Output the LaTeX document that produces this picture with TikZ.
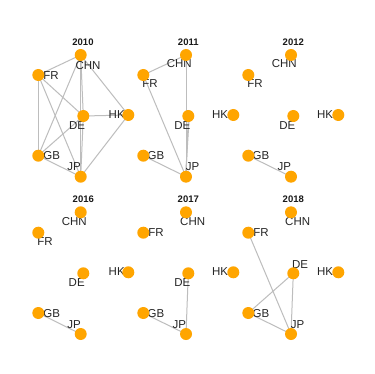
\documentclass[tikz,border=0pt]{standalone}
\usepackage{fontspec}
\setmainfont{Liberation Sans}
\definecolor{nodeorange}{HTML}{FFA500}
\definecolor{edgegray}{HTML}{BDBDBD}
\begin{document}
\begin{tikzpicture}[x=1pt,y=-1pt,
  vert/.style={circle,fill=nodeorange,draw=none,minimum size=12pt,inner sep=0pt},
  lab/.style={font=\fontsize{11.5}{13}\selectfont,text=black!85,inner sep=0pt,text height=0.72em,text depth=0pt},
  ttl/.style={font=\fontsize{9.5}{11}\selectfont\bfseries,text=black!90,inner sep=0pt,text height=0.72em,text depth=0pt},
  edge/.style={draw=edgegray,line width=1pt}]
\useasboundingbox[fill=white] (0,0) rectangle (374,374);

% ---------- 2010 ----------
\node[ttl] (t10) at (83,42) {2010};
\coordinate (a-CHN) at (80.7,55);
\coordinate (a-FR) at (38.3,75);
\coordinate (a-DE) at (83.3,116);
\coordinate (a-HK) at (128.3,115);
\coordinate (a-GB) at (38.3,155.7);
\coordinate (a-JP) at (80.7,176.7);
\foreach \u/\v in {CHN/FR,CHN/GB,CHN/DE,CHN/JP,CHN/HK,FR/DE,FR/GB,FR/JP,DE/HK,DE/GB,DE/JP,GB/JP,HK/JP}
  \draw[edge] (a-\u) -- (a-\v);
\node[lab] (la-CHN) at (88,65.5) {CHN};
\node[lab] (la-FR) at (51,76) {FR};
\node[lab] (la-DE) at (77,125.7) {DE};
\node[lab] (la-HK) at (116.7,115.3) {HK};
\node[lab] (la-GB) at (51.7,156) {GB};
\node[lab] (la-JP) at (74,167.3) {JP};
\foreach \n in {CHN,FR,DE,HK,GB,JP} \node[vert] (na-\n) at (a-\n) {};

% ---------- 2011 ----------
\node[ttl] (t11) at (188.3,41.7) {2011};
\coordinate (b-CHN) at (186,55);
\coordinate (b-FR) at (143.3,75);
\coordinate (b-DE) at (188.3,116);
\coordinate (b-HK) at (233.3,115);
\coordinate (b-GB) at (143.3,155.7);
\coordinate (b-JP) at (186,176.7);
\foreach \u/\v in {CHN/FR,CHN/JP,FR/JP,DE/JP,GB/JP}
  \draw[edge] (b-\u) -- (b-\v);
\draw[edge] ([xshift=1pt]b-DE) -- ([xshift=-0.5pt]b-JP);
\node[lab] (lb-CHN) at (179.3,64.3) {CHN};
\node[lab] (lb-FR) at (150,84.3) {FR};
\node[lab] (lb-DE) at (182.3,125.7) {DE};
\node[lab] (lb-HK) at (220,115) {HK};
\node[lab] (lb-GB) at (156,156) {GB};
\node[lab] (lb-JP) at (192.7,167.3) {JP};
\foreach \n in {CHN,FR,DE,HK,GB,JP} \node[vert] (nb-\n) at (b-\n) {};

% ---------- 2012 ----------
\node[ttl] (t12) at (293.3,41.7) {2012};
\coordinate (c-CHN) at (291,55);
\coordinate (c-FR) at (248.3,75);
\coordinate (c-DE) at (293.3,116);
\coordinate (c-HK) at (338.3,115);
\coordinate (c-GB) at (248.3,155.7);
\coordinate (c-JP) at (291,176.7);
\draw[edge] (c-GB) -- (c-JP);
\node[lab] (lc-CHN) at (284.3,64.3) {CHN};
\node[lab] (lc-FR) at (255,84.3) {FR};
\node[lab] (lc-DE) at (287.3,125.7) {DE};
\node[lab] (lc-HK) at (325,115) {HK};
\node[lab] (lc-GB) at (261,156) {GB};
\node[lab] (lc-JP) at (284.3,166.7) {JP};
\foreach \n in {CHN,FR,DE,HK,GB,JP} \node[vert] (nc-\n) at (c-\n) {};

% ---------- 2016 ----------
\node[ttl] (t16) at (83.3,199) {2016};
\coordinate (d-CHN) at (80.7,212.3);
\coordinate (d-FR) at (38.3,232.7);
\coordinate (d-DE) at (83.3,273.3);
\coordinate (d-HK) at (128.3,272.3);
\coordinate (d-GB) at (38.3,313);
\coordinate (d-JP) at (80.7,334);
\draw[edge] (d-GB) -- (d-JP);
\node[lab] (ld-CHN) at (74.3,222.3) {CHN};
\node[lab] (ld-FR) at (45,242.3) {FR};
\node[lab] (ld-DE) at (76.7,283) {DE};
\node[lab] (ld-HK) at (116.7,272.3) {HK};
\node[lab] (ld-GB) at (51.7,313.7) {GB};
\node[lab] (ld-JP) at (74,325) {JP};
\foreach \n in {CHN,FR,DE,HK,GB,JP} \node[vert] (nd-\n) at (d-\n) {};

% ---------- 2017 ----------
\node[ttl] (t17) at (188.3,199) {2017};
\coordinate (e-CHN) at (186,212.3);
\coordinate (e-FR) at (143.3,232.7);
\coordinate (e-DE) at (188.3,273.3);
\coordinate (e-HK) at (233.3,272.3);
\coordinate (e-GB) at (143.3,313);
\coordinate (e-JP) at (186,334);
\draw[edge] (e-DE) -- (e-JP);
\draw[edge] (e-GB) -- (e-JP);
\node[lab] (le-CHN) at (192.7,222.3) {CHN};
\node[lab] (le-FR) at (156,233.3) {FR};
\node[lab] (le-DE) at (182.3,283) {DE};
\node[lab] (le-HK) at (220,272.3) {HK};
\node[lab] (le-GB) at (156,313.7) {GB};
\node[lab] (le-JP) at (179.3,325) {JP};
\foreach \n in {CHN,FR,DE,HK,GB,JP} \node[vert] (ne-\n) at (e-\n) {};

% ---------- 2018 ----------
\node[ttl] (t18) at (293.3,199) {2018};
\coordinate (f-CHN) at (291,212.3);
\coordinate (f-FR) at (248.3,232.7);
\coordinate (f-DE) at (293.3,273.3);
\coordinate (f-HK) at (338.3,272.3);
\coordinate (f-GB) at (248.3,313);
\coordinate (f-JP) at (291,334);
\foreach \u/\v in {FR/JP,DE/GB,DE/JP,GB/JP}
  \draw[edge] (f-\u) -- (f-\v);
\node[lab] (lf-CHN) at (297.7,222.3) {CHN};
\node[lab] (lf-FR) at (261,233.3) {FR};
\node[lab] (lf-DE) at (300,265) {DE};
\node[lab] (lf-HK) at (325,272.3) {HK};
\node[lab] (lf-GB) at (261,313.7) {GB};
\node[lab] (lf-JP) at (297.7,325) {JP};
\foreach \n in {CHN,FR,DE,HK,GB,JP} \node[vert] (nf-\n) at (f-\n) {};
\end{tikzpicture}
\end{document}
